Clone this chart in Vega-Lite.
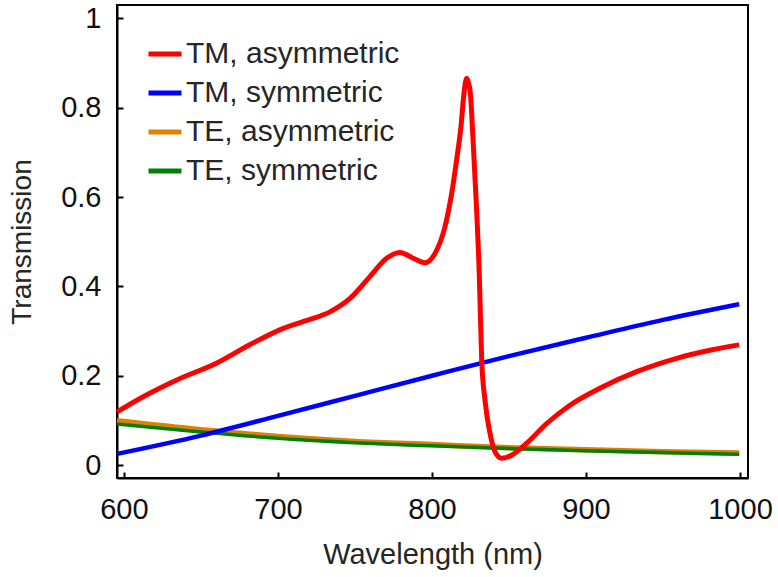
{
  "$schema": "https://vega.github.io/schema/vega-lite/v6.json",
  "width": 631,
  "height": 473,
  "autosize": "none",
  "padding": {"left": 117, "top": 5, "right": 30, "bottom": 99},
  "background": "white",
  "config": {
    "font": "Liberation Sans",
    "view": {"stroke": "black", "strokeWidth": 2},
    "axis": {
      "grid": false,
      "domainColor": "black",
      "domainWidth": 2,
      "tickColor": "black",
      "tickWidth": 2,
      "tickSize": -6,
      "labelFont": "Liberation Sans",
      "labelFontSize": 29,
      "labelColor": "#111111",
      "titleFont": "Liberation Sans",
      "titleFontWeight": "normal",
      "titleColor": "#262626"
    }
  },
  "data": {
    "values": [
      {"w": 595.5, "t": 0.119, "s": "TM, asymmetric"},
      {"w": 612.5, "t": 0.153, "s": "TM, asymmetric"},
      {"w": 634, "t": 0.19, "s": "TM, asymmetric"},
      {"w": 660, "t": 0.228, "s": "TM, asymmetric"},
      {"w": 682, "t": 0.27, "s": "TM, asymmetric"},
      {"w": 703.5, "t": 0.306, "s": "TM, asymmetric"},
      {"w": 720.8, "t": 0.326, "s": "TM, asymmetric"},
      {"w": 733.8, "t": 0.343, "s": "TM, asymmetric"},
      {"w": 746.8, "t": 0.373, "s": "TM, asymmetric"},
      {"w": 759.7, "t": 0.422, "s": "TM, asymmetric"},
      {"w": 770.6, "t": 0.463, "s": "TM, asymmetric"},
      {"w": 779.2, "t": 0.476, "s": "TM, asymmetric"},
      {"w": 787.9, "t": 0.463, "s": "TM, asymmetric"},
      {"w": 795.5, "t": 0.453, "s": "TM, asymmetric"},
      {"w": 802, "t": 0.474, "s": "TM, asymmetric"},
      {"w": 808.4, "t": 0.533, "s": "TM, asymmetric"},
      {"w": 812.8, "t": 0.608, "s": "TM, asymmetric"},
      {"w": 816, "t": 0.683, "s": "TM, asymmetric"},
      {"w": 818.8, "t": 0.757, "s": "TM, asymmetric"},
      {"w": 820.8, "t": 0.832, "s": "TM, asymmetric"},
      {"w": 822.5, "t": 0.866, "s": "TM, asymmetric"},
      {"w": 824.7, "t": 0.84, "s": "TM, asymmetric"},
      {"w": 826.8, "t": 0.72, "s": "TM, asymmetric"},
      {"w": 829, "t": 0.571, "s": "TM, asymmetric"},
      {"w": 830.7, "t": 0.429, "s": "TM, asymmetric"},
      {"w": 832.3, "t": 0.235, "s": "TM, asymmetric"},
      {"w": 834.4, "t": 0.146, "s": "TM, asymmetric"},
      {"w": 837.7, "t": 0.071, "s": "TM, asymmetric"},
      {"w": 840.9, "t": 0.03, "s": "TM, asymmetric"},
      {"w": 845.2, "t": 0.015, "s": "TM, asymmetric"},
      {"w": 851.7, "t": 0.022, "s": "TM, asymmetric"},
      {"w": 861.5, "t": 0.049, "s": "TM, asymmetric"},
      {"w": 874.5, "t": 0.093, "s": "TM, asymmetric"},
      {"w": 889.6, "t": 0.134, "s": "TM, asymmetric"},
      {"w": 909, "t": 0.172, "s": "TM, asymmetric"},
      {"w": 932.9, "t": 0.209, "s": "TM, asymmetric"},
      {"w": 958.9, "t": 0.239, "s": "TM, asymmetric"},
      {"w": 980.5, "t": 0.257, "s": "TM, asymmetric"},
      {"w": 999.5, "t": 0.269, "s": "TM, asymmetric"},
      {"w": 595.5, "t": 0.025, "s": "TM, symmetric"},
      {"w": 650, "t": 0.066, "s": "TM, symmetric"},
      {"w": 700, "t": 0.11, "s": "TM, symmetric"},
      {"w": 750, "t": 0.155, "s": "TM, symmetric"},
      {"w": 800, "t": 0.2, "s": "TM, symmetric"},
      {"w": 850, "t": 0.244, "s": "TM, symmetric"},
      {"w": 900, "t": 0.285, "s": "TM, symmetric"},
      {"w": 950, "t": 0.325, "s": "TM, symmetric"},
      {"w": 999.5, "t": 0.36, "s": "TM, symmetric"},
      {"w": 595.5, "t": 0.099, "s": "TE, asymmetric"},
      {"w": 650, "t": 0.079, "s": "TE, asymmetric"},
      {"w": 700, "t": 0.064, "s": "TE, asymmetric"},
      {"w": 750, "t": 0.053, "s": "TE, asymmetric"},
      {"w": 800, "t": 0.046, "s": "TE, asymmetric"},
      {"w": 850, "t": 0.039, "s": "TE, asymmetric"},
      {"w": 900, "t": 0.034, "s": "TE, asymmetric"},
      {"w": 950, "t": 0.03, "s": "TE, asymmetric"},
      {"w": 999.5, "t": 0.027, "s": "TE, asymmetric"},
      {"w": 595.5, "t": 0.092, "s": "TE, symmetric"},
      {"w": 650, "t": 0.074, "s": "TE, symmetric"},
      {"w": 700, "t": 0.06, "s": "TE, symmetric"},
      {"w": 750, "t": 0.05, "s": "TE, symmetric"},
      {"w": 800, "t": 0.043, "s": "TE, symmetric"},
      {"w": 850, "t": 0.037, "s": "TE, symmetric"},
      {"w": 900, "t": 0.032, "s": "TE, symmetric"},
      {"w": 950, "t": 0.028, "s": "TE, symmetric"},
      {"w": 999.5, "t": 0.024, "s": "TE, symmetric"}
    ]
  },
  "encoding": {
    "x": {
      "field": "w", "type": "quantitative",
      "scale": {"domain": [595.5, 1005.2], "nice": false, "zero": false},
      "axis": {"values": [600, 700, 800, 900, 1000], "format": "d", "title": "Wavelength (nm)", "titleFontSize": 29, "labelPadding": 23, "titlePadding": 16}
    },
    "y": {
      "field": "t", "type": "quantitative",
      "scale": {"domain": [-0.029, 1.03], "nice": false, "zero": false},
      "axis": {"values": [0, 0.2, 0.4, 0.6, 0.8, 1], "format": "~g", "title": "Transmission", "titleFontSize": 28, "labelPadding": 22, "titlePadding": 24}
    },
    "color": {
      "field": "s", "type": "nominal",
      "scale": {
        "domain": ["TM, asymmetric", "TM, symmetric", "TE, asymmetric", "TE, symmetric"],
        "range": ["#ff0000", "#0000ff", "#e08000", "#008000"]
      },
      "legend": {
        "title": null,
        "orient": "none",
        "legendX": 29,
        "legendY": 30,
        "symbolType": "stroke",
        "symbolSize": 1089,
        "symbolStrokeWidth": 5,
        "labelFont": "Liberation Sans",
        "labelFontSize": 30,
        "labelColor": "#262626",
        "labelOffset": 2,
        "rowPadding": 5,
        "labelLimit": 400
      }
    }
  },
  "layer": [
    {"transform": [{"filter": "datum.s == 'TE, asymmetric'"}], "mark": {"type": "line", "interpolate": "monotone", "strokeWidth": 5.5}},
    {"transform": [{"filter": "datum.s == 'TE, symmetric'"}], "mark": {"type": "line", "interpolate": "monotone", "strokeWidth": 3.5}},
    {"transform": [{"filter": "datum.s == 'TM, symmetric'"}], "mark": {"type": "line", "interpolate": "monotone", "strokeWidth": 4.5}},
    {"transform": [{"filter": "datum.s == 'TM, asymmetric'"}], "mark": {"type": "line", "interpolate": "monotone", "strokeWidth": 5}}
  ]
}
